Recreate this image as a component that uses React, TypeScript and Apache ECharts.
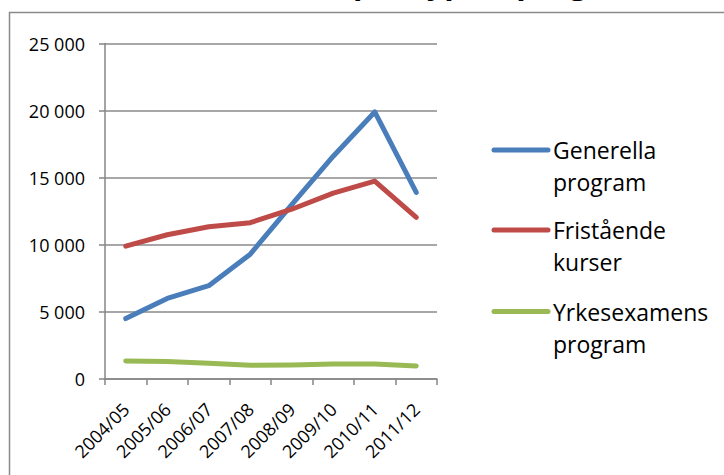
import React, { useEffect, useRef } from "react";
import * as echarts from "echarts";

const categories = ["2004/05", "2005/06", "2006/07", "2007/08", "2008/09", "2009/10", "2010/11", "2011/12"];
const seriesNames = ["Generella program", "Fristående kurser", "Yrkesexamens program"];
const generella = [4500, 6000, 6950, 9300, 13000, 16600, 19900, 13900];
const fristaende = [9900, 10750, 11350, 11650, 12650, 13850, 14750, 12050];
const yrkes = [1350, 1300, 1170, 1020, 1050, 1120, 1120, 970];
const colors = ["#4A7EBB", "#BE4B48", "#98B954"];
const titleText = "Antal studenter per typ av program";

const FONT = "'Open Sans', 'DejaVu Sans', sans-serif";

const fmt = (v: number) => String(v).replace(/\B(?=(\d{3})+(?!\d))/g, " ");

export default function App() {
  const ref = useRef<HTMLDivElement>(null);
  useEffect(() => {
    if (!ref.current) return;
    const chart = echarts.init(ref.current, undefined, { renderer: "svg" });
    const data = [generella, fristaende, yrkes];
    const legendY = [150, 230, 311.5];
    const legendGraphics: any[] = [];
    seriesNames.forEach((n, i) => {
      legendGraphics.push({
        type: "line",
        shape: { x1: 494, y1: legendY[i], x2: 548, y2: legendY[i] },
        style: { stroke: colors[i], lineWidth: 5, lineCap: "round" },
      });
      legendGraphics.push({
        type: "text",
        x: 553,
        y: legendY[i] - 16,
        style: {
          text: n.replace(" ", "\n"),
          font: `23px ${FONT}`,
          fill: "#000",
          lineHeight: 32,
          verticalAlign: "top",
          textAlign: "left",
        },
      });
    });
    chart.setOption({
      animation: false,
      backgroundColor: "#fff",
      graphic: [
        {
          type: "rect",
          shape: { x: 9.5, y: 12.5, width: 900, height: 700 },
          style: { fill: "none", stroke: "#8a8a8a", lineWidth: 1.5 },
          silent: true,
        },
        {
          type: "text",
          x: 650,
          y: -18.5,
          style: {
            text: titleText,
            font: `bold 31px ${FONT}`,
            fill: "#000",
            textAlign: "right",
            verticalAlign: "middle",
          },
        },
        ...legendGraphics,
      ],
      grid: { left: 105, top: 43.5, width: 332, height: 335.5, containLabel: false },
      xAxis: {
        type: "category",
        data: categories,
        boundaryGap: true,
        axisLine: { lineStyle: { color: "#868686", width: 1.5 } },
        axisTick: { show: true, length: 6, lineStyle: { color: "#868686", width: 1.5 } },
        axisLabel: { rotate: 45, fontSize: 18, fontFamily: FONT, color: "#000", margin: 27, interval: 0 },
      },
      yAxis: {
        type: "value",
        min: 0,
        max: 25000,
        interval: 5000,
        axisLine: { show: true, lineStyle: { color: "#868686", width: 1.5 } },
        axisTick: { show: true, length: 6, lineStyle: { color: "#868686", width: 1.5 } },
        splitLine: { lineStyle: { color: "#8a8a8a", width: 1.5 } },
        axisLabel: { fontSize: 18, fontFamily: FONT, color: "#000", margin: 20, formatter: fmt },
      },
      series: seriesNames.map((n, i) => ({
        name: n,
        type: "line",
        data: data[i],
        showSymbol: false,
        symbol: "none",
        lineStyle: { color: colors[i], width: 5, cap: "round", join: "round" },
        itemStyle: { color: colors[i] },
      })),
    });
    return () => chart.dispose();
  }, []);
  return (
    <div
      ref={ref}
      style={{ position: "absolute", left: 0, top: 0, width: 724, height: 475, background: "#fff" }}
    />
  );
}
